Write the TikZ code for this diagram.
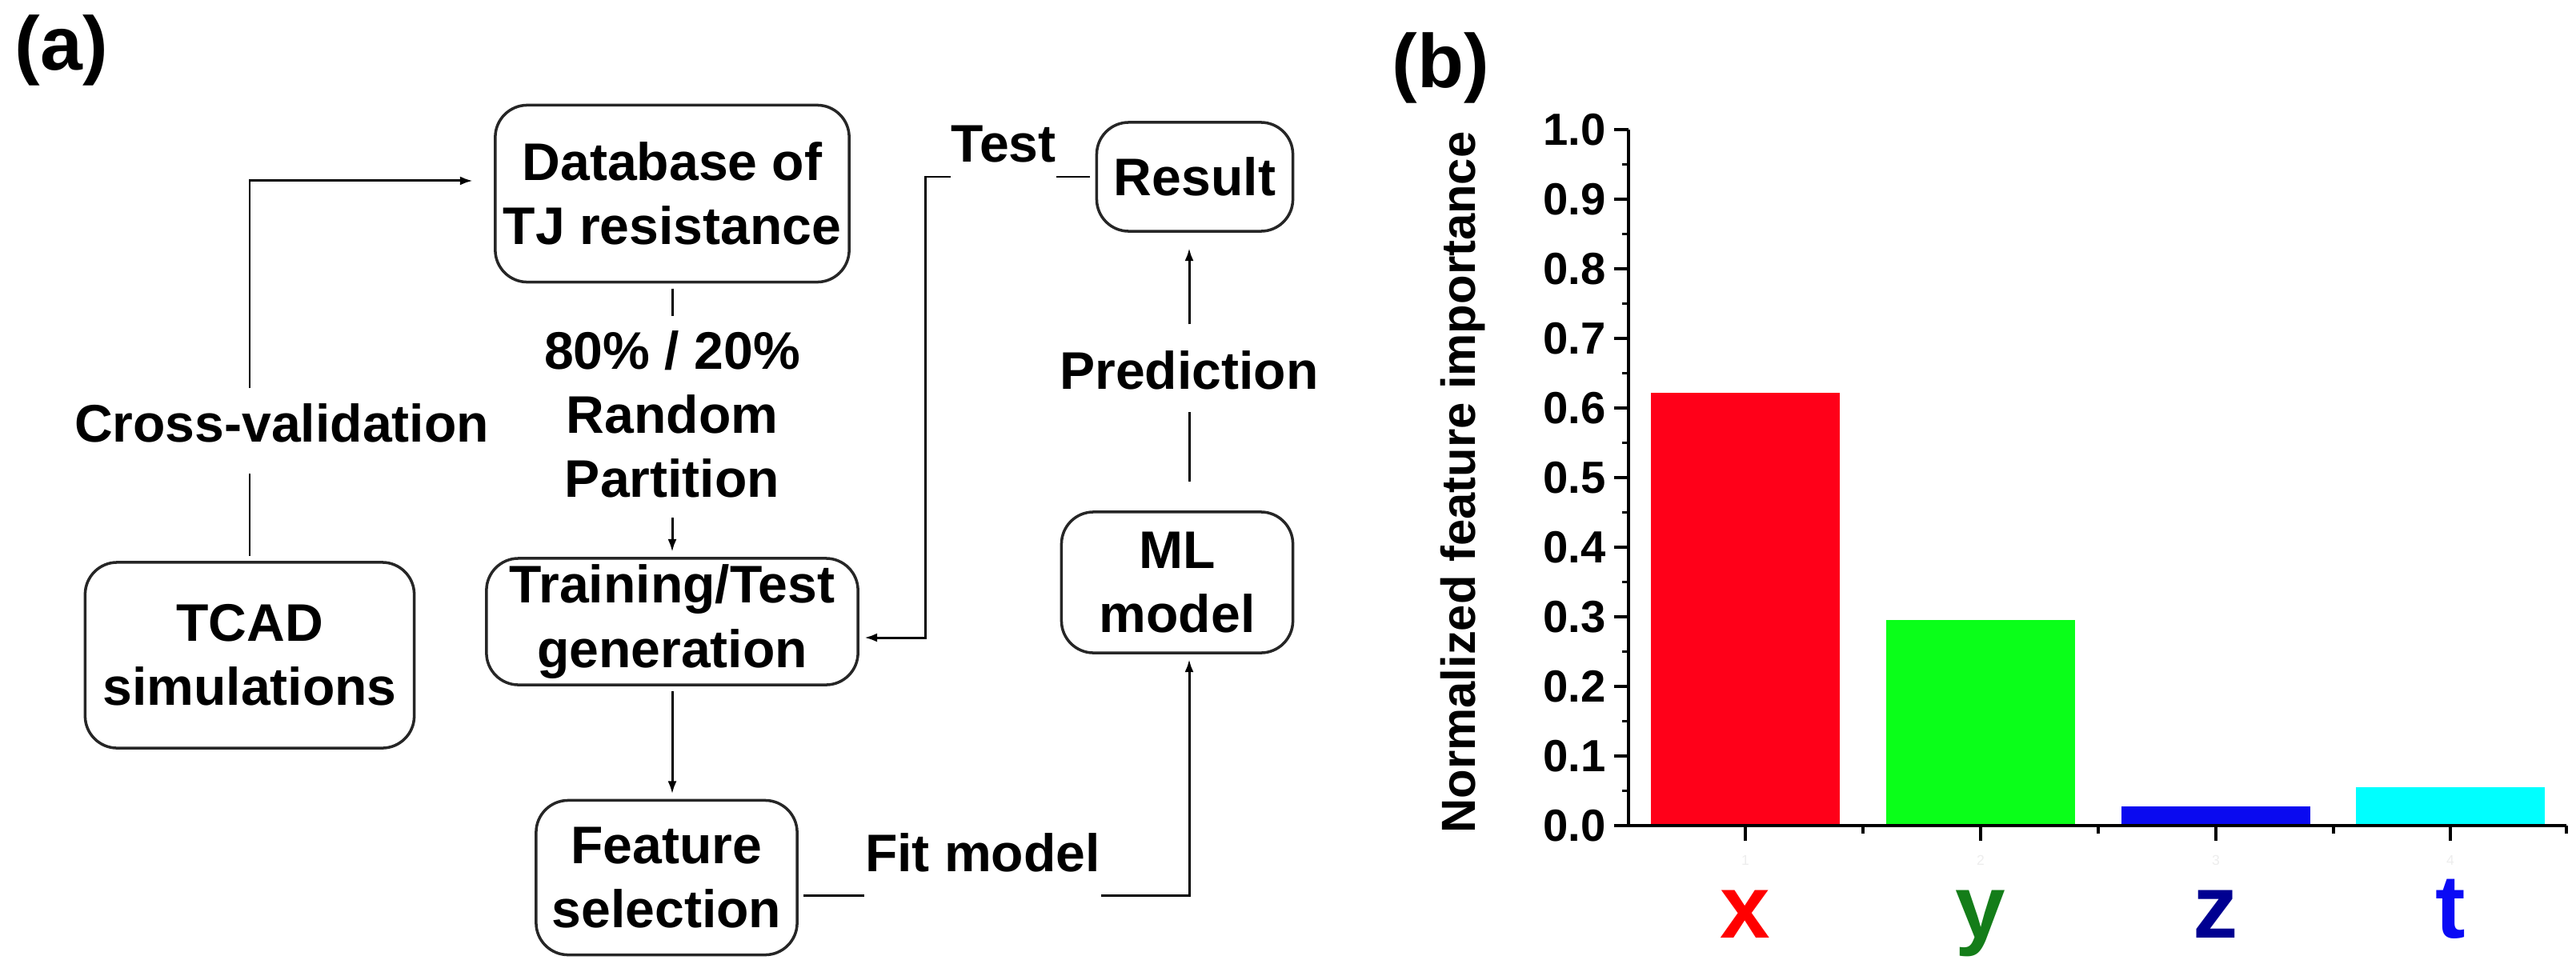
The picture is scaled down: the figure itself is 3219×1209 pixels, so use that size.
\documentclass[tikz,border=0pt]{standalone}
\usepackage{fontspec}
\setmainfont{Liberation Sans}
\usetikzlibrary{arrows.meta}
\definecolor{barred}{RGB}{255,0,25}
\definecolor{bargreen}{RGB}{10,255,25}
\definecolor{barblue}{RGB}{10,10,240}
\definecolor{barcyan}{RGB}{0,255,255}
\definecolor{xred}{RGB}{255,0,0}
\definecolor{ygreen}{RGB}{20,125,25}
\definecolor{znavy}{RGB}{0,0,145}
\definecolor{tblue}{RGB}{10,10,245}
\newcommand{\flowfont}{\fontsize{18.8}{22.8}\selectfont\bfseries}
\newcommand{\tickfont}{\fontsize{16}{19}\selectfont\bfseries}
\newcommand{\ylblfont}{\fontsize{17}{20}\selectfont\bfseries}
\newcommand{\catfont}{\fontsize{32}{38}\selectfont\bfseries}
\newcommand{\panelfont}{\fontsize{27}{32}\selectfont\bfseries}

\begin{document}
\begin{tikzpicture}[x=0.01cm,y=-0.01cm,
		box/.style={draw=black!85,line width=1pt,rounded corners=0.4cm,align=center,inner sep=0pt,outer sep=0.08cm,font=\flowfont},
		lbl/.style={inner sep=0pt,align=center,font=\flowfont},
		wire/.style={line width=0.85pt},
		conn/.style={line width=0.85pt,-{Latex[length=0.16cm,width=0.11cm]}},
		axisline/.style={line width=1.1pt}]
		\useasboundingbox (0,0) rectangle (3219,1209);
		\node[font=\panelfont](pa) at (77,63){(a)};
		\node[font=\panelfont](pb) at (1800,85){(b)};
		\node[box,minimum width=4.42cm,minimum height=2.21cm](db) at (840,242){Database of\\TJ resistance};
		\node[box,minimum width=4.11cm,minimum height=2.32cm](tcad) at (312,819){TCAD\\simulations};
		\node[box,minimum width=4.64cm,minimum height=1.58cm](train) at (840,777){Training/Test\\generation};
		\node[box,minimum width=3.26cm,minimum height=1.93cm](feat) at (833,1097){Feature\\selection};
		\node[box,minimum width=2.45cm,minimum height=1.36cm](res) at (1493,221){Result};
		\node[box,minimum width=2.89cm,minimum height=1.76cm](ml) at (1471,728){ML\\model};
		\node[lbl,anchor=base](cv) at (352,552){Cross-validation};
		\node[lbl](split) at (840,518){80\% / 20\%\\Random\\Partition};
		\node[lbl,anchor=base](test) at (1254,202){Test};
		\node[lbl,anchor=base](fit) at (1228,1089){Fit model};
		\node[lbl,anchor=base](pred) at (1486,486){Prediction};
		\coordinate (fitrow) at ([yshift=-0.22cm]feat.east);
		\draw[wire,shorten >=0.39cm] (tcad.north) -- (tcad.north |- cv.south);
		\draw[conn,shorten <=0.18cm,shorten >=0.2cm] (tcad.north |- cv.north) |- ([yshift=0.16cm]db.west);
		\draw[wire,shorten >=0.18cm] (db.south) -- (split.north);
		\draw[conn,shorten <=0.24cm] (split.south) -- (train.north);
		\draw[conn] (train.south) -- (train.south |- feat.north);
		\draw[wire] (fitrow) -- (fitrow -| fit.west);
		\draw[conn] (fitrow -| fit.east) -| (ml.south -| pred);
		\draw[wire,shorten <=0.28cm,shorten >=0.3cm] (pred.south) -- (pred.south |- ml.north);
		\draw[conn,shorten <=0.32cm,shorten >=0.13cm] (pred.north) -- (pred.north |- res.south);
		\draw[wire] (res.west) -- (res.west -| test.east);
		\draw[conn] (res.west -| test.west) -- ++(-31,0) |- ([yshift=-0.2cm]train.east);
		\foreach \cx/\val/\col in {2181/0.622/barred,2475/0.295/bargreen,2769/0.028/barblue,3062/0.055/barcyan}
			\fill[\col] ({\cx-118},1032) rectangle ({\cx+118},{1032-870*\val});
		\draw[axisline] (2035,162) -- (2035,1032) -- (3207,1032);
		\foreach \t [count=\i from 0] in {0.0,0.1,0.2,0.3,0.4,0.5,0.6,0.7,0.8,0.9,1.0}{
			\draw[axisline] (2035,{1032-87*\i}) -- ++(-18,0);
			\node[font=\tickfont,anchor=east,inner sep=0pt] at (2007,{1032-87*\i}){\t};
		}
		\foreach \v in {0.5,1.5,...,9.5}
			\draw[axisline] (2035,{1032-87*\v}) -- ++(-8,0);
		\foreach \bx in {2328,2622,2916,3207}
			\draw[axisline] (\bx,1032) -- ++(0,10);
		\foreach \cx/\name/\col [count=\k] in {2181/x/xred,2475/y/ygreen,2769/z/znavy,3062/t/tblue}{
			\draw[axisline] (\cx,1032) -- ++(0,19);
			\node[font=\tiny,text=black!7] at (\cx,1075){\k};
			\node[font=\catfont,text=\col,anchor=base](cat\name) at (\cx,1172){\name};
		}
		\node[font=\ylblfont,rotate=90](ylbl) at (1828,603){Normalized feature importance};
\end{tikzpicture}
\end{document}
